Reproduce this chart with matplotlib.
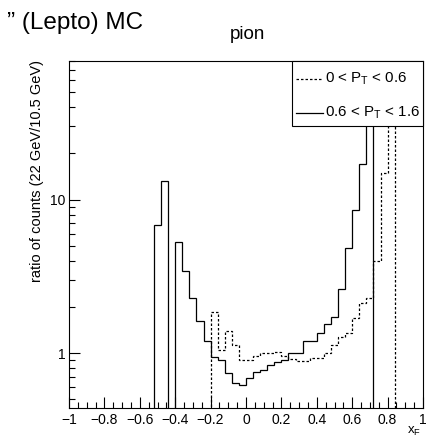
import numpy as np
import matplotlib
matplotlib.use("Agg")
import matplotlib.pyplot as plt
from matplotlib.patches import Rectangle
from matplotlib.lines import Line2D
from matplotlib.ticker import MultipleLocator, LogLocator, NullFormatter, FixedLocator, FixedFormatter

plt.rcParams['font.family'] = ['Liberation Sans', 'DejaVu Sans']
plt.rcParams['mathtext.fontset'] = 'custom'
plt.rcParams['mathtext.rm'] = 'Liberation Sans'
plt.rcParams['mathtext.it'] = 'Liberation Sans:italic'

# ---- data ----
bin_lo = -1.0
bin_width = 0.04
n_bins = 50
# 0.6 < PT < 1.6 (solid)
high_pt = [0, 0, 0, 0, 0, 0, 0, 0, 0, 0,
           0, 0, 6.8, 13.3, 0, 5.3, 3.45, 2.3, 1.62, 1.20,
           0.95, 0.905, 0.74, 0.636, 0.623, 0.688, 0.756, 0.776, 0.84, 0.878,
           0.90, 1.0, 1.01, 1.20, 1.20, 1.35, 1.54, 1.73, 2.63, 4.86,
           8.6, 17.0, 120.0, 0, 0, 0, 0, 0, 0, 0]
# 0 < PT < 0.6 (dashed)
low_pt = [0, 0, 0, 0, 0, 0, 0, 0, 0, 0,
          0, 0, 0, 0, 0, 0, 0, 0, 0, 0,
          1.87, 1.045, 1.40, 1.13, 0.91, 0.91, 0.96, 1.01, 1.01, 1.025,
          0.96, 0.92, 0.887, 0.887, 0.937, 0.937, 1.01, 1.13, 1.28, 1.36,
          1.70, 2.13, 2.30, 3.97, 15.0, 120.0, 0, 0, 0, 0]
x_major = [-1, -0.8, -0.6, -0.4, -0.2, 0, 0.2, 0.4, 0.6, 0.8, 1]
x_labels = ["\u22121", "\u22120.8", "\u22120.6", "\u22120.4", "\u22120.2", "0", "0.2", "0.4", "0.6", "0.8", "1"]
legend_labels = ["0 < P$_{\\rm T}$ < 0.6", "0.6 < P$_{\\rm T}$ < 1.6"]

W, H = 428, 437
fig = plt.figure(figsize=(W/100, H/100), dpi=100)
L, R, T, B = 69, 423, 61, 408
ax = fig.add_axes([L/W, 1-B/H, (R-L)/W, (B-T)/H])

edges = bin_lo + bin_width*np.arange(n_bins+1)
hp = np.array(high_pt, float); lp = np.array(low_pt, float)
hp = np.where(hp > 0, hp, 1e-3)
lp = np.where(lp > 0, lp, 1e-3)
ax.stairs(lp, edges, baseline=None, color='black', lw=0.9, linestyle=(0, (2, 1.6)))
ax.stairs(hp, edges, baseline=None, color='black', lw=0.9)

ax.set_yscale('log')
ax.set_xlim(-1, 1)
ax.set_ylim(0.44, 80)
ax.xaxis.set_major_locator(FixedLocator(x_major))
ax.xaxis.set_major_formatter(FixedFormatter(x_labels))
ax.xaxis.set_minor_locator(MultipleLocator(0.05))
ax.yaxis.set_major_locator(FixedLocator([1, 10]))
ax.yaxis.set_major_formatter(FixedFormatter(["1", "10"]))
ax.yaxis.set_minor_locator(LogLocator(base=10, subs=np.arange(2, 10), numticks=20))
ax.yaxis.set_minor_formatter(NullFormatter())
ax.tick_params(which='both', direction='in', top=False, right=False, labelsize=10, width=0.8)
ax.tick_params(which='major', length=8)
ax.tick_params(which='minor', length=4.5)
ax.tick_params(axis='x', pad=3.5)
ax.tick_params(axis='y', pad=2.5)
for s in ax.spines.values():
    s.set_linewidth(0.8)

# legend box (drawn manually, ROOT style)
lx0, lx1, ly0, ly1 = 292, 423, 61, 126
fig.patches.append(Rectangle((lx0/W, 1-ly1/H), (lx1-lx0)/W, (ly1-ly0)/H,
                             transform=fig.transFigure, facecolor='white',
                             edgecolor='black', lw=0.8, zorder=5))
rows = [79, 113]
styles = [(0, (2, 1.6)), '-']
for yy, st, lab in zip(rows, styles, legend_labels):
    fig.lines.append(Line2D([296/W, 323/W], [1-yy/H, 1-yy/H], transform=fig.transFigure,
                            color='black', lw=0.9, linestyle=st, zorder=6))
    fig.text(325/W, 1-yy/H, lab, fontsize=10.9, ha='left', va='center', zorder=7)

fig.text(143/W, 1-29/H, "\u201d (Lepto) MC", fontsize=17.5, ha='right', va='baseline')
fig.text(247/W, 1-39/H, "pion", fontsize=13.5, ha='center', va='baseline')
fig.text(37/W, 1-60/H, "ratio of counts (22 GeV/10.5 GeV)", fontsize=10.5, rotation=90,
         ha='center', va='top')
fig.text(421/W, 1-434/H, "x$_{\\rm F}$", fontsize=9.5, ha='right', va='baseline')

fig.savefig("out.png", dpi=100)
